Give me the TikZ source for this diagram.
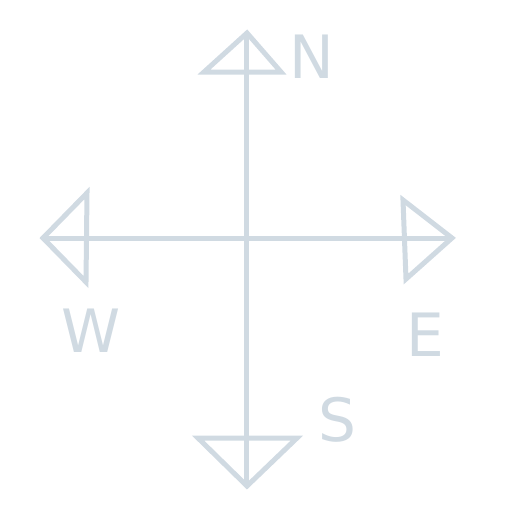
\documentclass[tikz,border=0pt]{standalone}
\usepackage{fontspec}
\setmainfont{DejaVu Sans}
\definecolor{roseGray}{RGB}{208,218,226}
\tikzset{
  roseLine/.style={draw=roseGray, line width=0.1cm},
  roseHead/.style={roseLine},
  roseLabel/.style={font=\fontsize{34}{40}\selectfont, text=roseGray, inner sep=0pt},
}
\begin{document}
\begin{tikzpicture}[x=0.02cm, y=-0.02cm]
\useasboundingbox (0,0) rectangle (512,512);

% tips of the four arms
\coordinate (tipN) at (247,33);
\coordinate (tipS) at (247,486);
\coordinate (tipW) at (43,238);
\coordinate (tipE) at (452,238);

% the cross
\draw[roseLine] (tipN) -- (tipS);
\draw[roseLine] (tipW) -- (tipE);

% open heads
\draw[roseHead] (tipN) -- (204,72) -- (281,72) -- cycle;
\draw[roseHead] (tipS) -- (198,438) -- (297,438) -- cycle;
\draw[roseHead] (tipW) -- (87,193) -- (86,282) -- cycle;
\draw[roseHead] (tipE) -- (403,200) -- (406,279) -- cycle;

% letters
\node[roseLabel] (labN) at (312,57) {N};
\node[roseLabel] (labE) at (425,335) {E};
\node[roseLabel] (labS) at (337,420) {S};
\node[roseLabel] (labW) at (91,331) {W};

\end{tikzpicture}
\end{document}
